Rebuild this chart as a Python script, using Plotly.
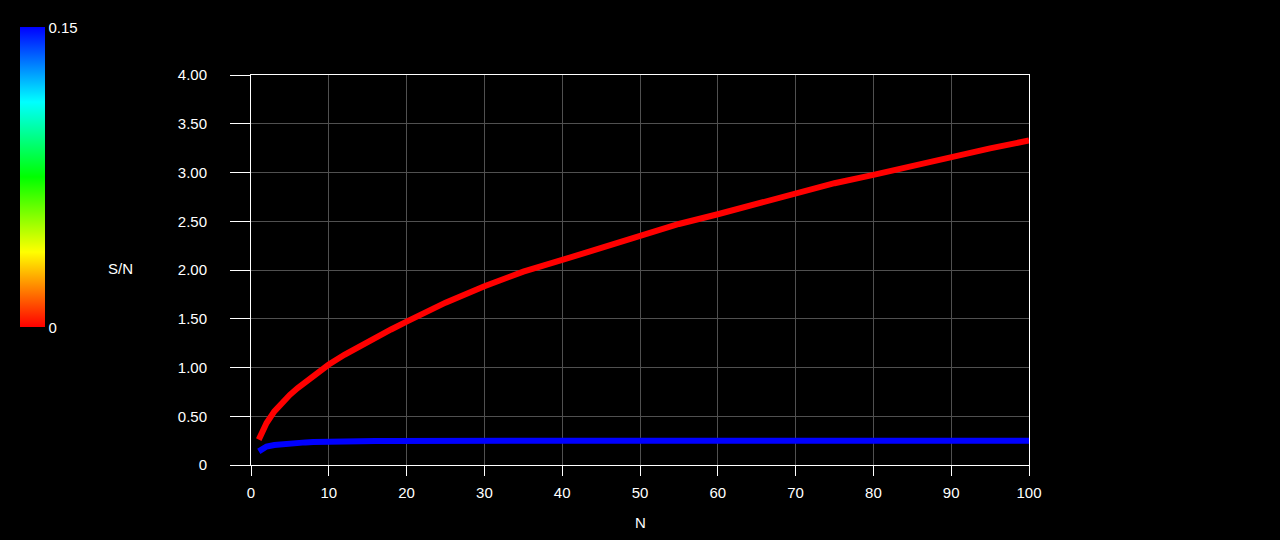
import plotly.graph_objects as go

# sample sizes and signal-to-noise readings
n_values = [1, 2, 3, 4, 5, 6, 7, 8, 9, 10, 12, 14, 16, 18, 20,
            25, 30, 35, 40, 45, 50, 55, 60, 65, 70, 75, 80, 85, 90, 95, 100]
sn_red = [0.26, 0.43, 0.55, 0.64, 0.72, 0.79, 0.85, 0.92, 0.98, 1.03, 1.13, 1.22, 1.30, 1.39, 1.47,
          1.665, 1.834, 1.983, 2.103, 2.224, 2.352, 2.472, 2.572, 2.683, 2.793, 2.89, 2.976,
          3.069, 3.155, 3.248, 3.328]
sn_blue = [0.14, 0.19, 0.205, 0.215, 0.222, 0.228, 0.232, 0.235, 0.238, 0.24, 0.242, 0.244, 0.246,
           0.247, 0.248, 0.249, 0.249, 0.249, 0.25, 0.25, 0.25, 0.25, 0.25, 0.25, 0.25, 0.25,
           0.25, 0.25, 0.25, 0.25, 0.25]

y_ticks = [0, 0.5, 1.0, 1.5, 2.0, 2.5, 3.0, 3.5, 4.0]
y_tick_text = ["0", "0.50", "1.00", "1.50", "2.00", "2.50", "3.00", "3.50", "4.00"]
x_ticks = [0, 10, 20, 30, 40, 50, 60, 70, 80, 90, 100]

jet = [[0, "#ff0000"], [0.25, "#ffff00"], [0.5, "#00ff00"], [0.75, "#00ffff"], [1, "#0000ff"]]

fig = go.Figure()
fig.add_trace(go.Scatter(x=n_values, y=sn_red, mode="lines",
                         line=dict(color="#ff0000", width=6), cliponaxis=False))
fig.add_trace(go.Scatter(x=n_values, y=sn_blue, mode="lines",
                         line=dict(color="#0000ff", width=6), cliponaxis=False))
# colour scale only
fig.add_trace(go.Scatter(x=[None], y=[None], mode="markers",
                         marker=dict(color=[0], cmin=0, cmax=0.15, colorscale=jet, showscale=True,
                                     colorbar=dict(xref="container", yref="container",
                                                   x=20 / 1280, xanchor="left",
                                                   y=1 - 38 / 540, yanchor="top",
                                                   len=300, lenmode="pixels", thickness=25,
                                                   xpad=0, ypad=0, outlinewidth=0,
                                                   tickvals=[0, 0.15], ticktext=["0", "0.15"],
                                                   ticks="",
                                                   tickfont=dict(color="white", size=15)))))

fig.update_layout(
    width=1280, height=540,
    paper_bgcolor="black", plot_bgcolor="black",
    font=dict(family="Liberation Sans", size=15, color="white"),
    margin=dict(l=251, r=251, t=75, b=75),
    showlegend=False,
    xaxis=dict(range=[0, 100], tickvals=x_ticks, ticks="outside", ticklen=10,
               tickcolor="white", showline=True, linecolor="white", linewidth=1, mirror=True,
               gridcolor="#505050", gridwidth=1, zeroline=False, ticklabelstandoff=4),
    yaxis=dict(range=[0, 4], tickvals=y_ticks, ticktext=y_tick_text, ticks="outside", ticklen=20,
               tickcolor="white", showline=True, linecolor="white", linewidth=1, mirror=True,
               gridcolor="#505050", gridwidth=1, zeroline=False, ticklabelstandoff=20),
    annotations=[
        dict(text="S/N", x=(120 - 251) / 778, y=0.505, xref="paper", yref="paper",
             showarrow=False, xanchor="center", yanchor="middle"),
        dict(text="N", x=0.5, y=(465 - 522) / 390, xref="paper", yref="paper",
             showarrow=False, xanchor="center", yanchor="middle"),
    ],
)

# drop the default page margin so the figure sits at the window's corner
fig.write_html("out.html", config={"displayModeBar": False},
               post_script="document.body.style.margin='0';"
                           "document.body.style.background='black';")
